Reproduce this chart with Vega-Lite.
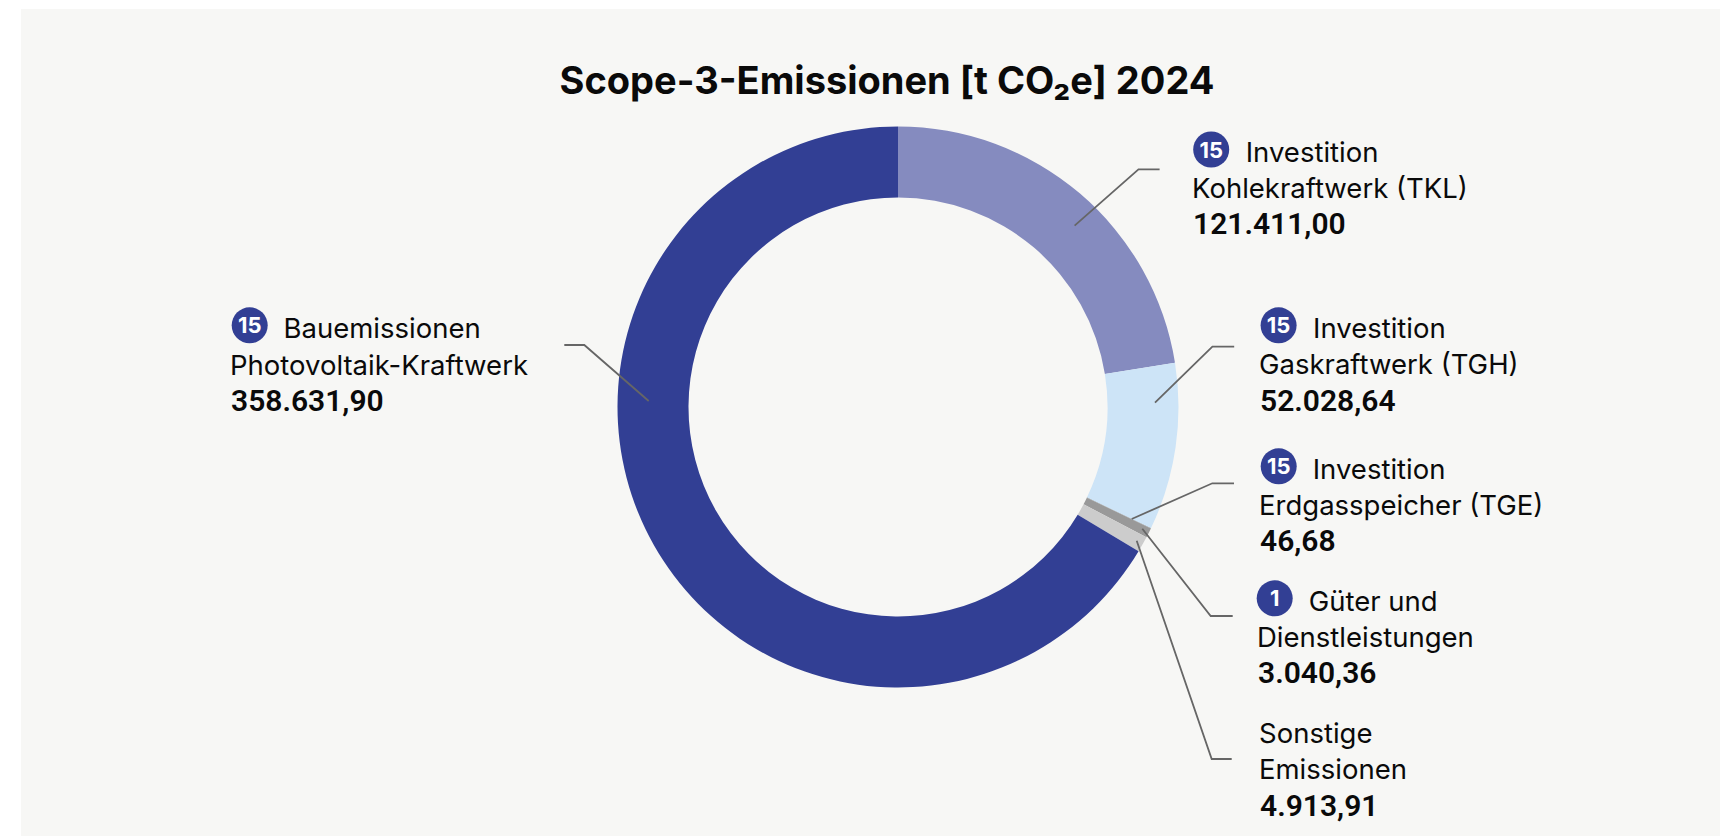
{
"$schema":"https://vega.github.io/schema/vega-lite/v6.json",
"width":1720,"height":836,"padding":0,"autosize":{"type":"none"},"background":"#ffffff",
"title":{"text":"Scope-3-Emissionen [t CO₂e] 2024","font":"Inter","fontSize":38,"fontWeight":700,"color":"#0a0a0a","anchor":"middle","dx":27,"dy":132,"baseline":"alphabetic","offset":0},
"config":{"view":{"stroke":null},"axis":{"domain":false,"grid":false,"ticks":false,"labels":false,"title":null}},
"datasets":{
"panel":[{"x0":21,"x1":1720,"y0":9,"y1":836}],
"slices":[
{"name":"Investition Kohlekraftwerk (TKL)","value":121411.00,"o":1},
{"name":"Investition Gaskraftwerk (TGH)","value":52028.64,"o":2},
{"name":"Investition Erdgasspeicher (TGE)","value":46.68,"o":3},
{"name":"Güter und Dienstleistungen","value":3040.36,"o":4},
{"name":"Sonstige Emissionen","value":4913.91,"o":5},
{"name":"Bauemissionen Photovoltaik-Kraftwerk","value":358631.90,"o":6}],
"leaders":[
{"id":"TKL","s":1,"x":1074.6,"y":225.7},{"id":"TKL","s":2,"x":1138.5,"y":169.3},{"id":"TKL","s":3,"x":1159.6,"y":169.3},
{"id":"TGH","s":1,"x":1155,"y":402.7},{"id":"TGH","s":2,"x":1212.4,"y":346.7},{"id":"TGH","s":3,"x":1234.2,"y":346.7},
{"id":"TGE","s":1,"x":1131.7,"y":519},{"id":"TGE","s":2,"x":1212.3,"y":483.3},{"id":"TGE","s":3,"x":1234,"y":483.3},
{"id":"GUD","s":1,"x":1142.3,"y":528.7},{"id":"GUD","s":2,"x":1210.7,"y":616},{"id":"GUD","s":3,"x":1232.7,"y":616},
{"id":"SON","s":1,"x":1136.7,"y":540.7},{"id":"SON","s":2,"x":1211.7,"y":759},{"id":"SON","s":3,"x":1231.7,"y":759},
{"id":"PV","s":1,"x":648.7,"y":401},{"id":"PV","s":2,"x":584.3,"y":345},{"id":"PV","s":3,"x":564.3,"y":345}],
"badges":[
{"t":"15","x":1211.2,"y":149.5},{"t":"15","x":1278.6,"y":325.3},{"t":"15","x":1278.7,"y":466.3},{"t":"1","x":1274.7,"y":598.3},{"t":"15","x":249.7,"y":325.3}],
"labels":[
{"t":"Investition","x":1245.7,"y":161.7},{"t":"Kohlekraftwerk (TKL)","x":1192,"y":198.3},
{"t":"Investition","x":1313,"y":337.7},{"t":"Gaskraftwerk (TGH)","x":1259,"y":374.3},
{"t":"Investition","x":1312.7,"y":479.3},{"t":"Erdgasspeicher (TGE)","x":1259,"y":515},
{"t":"Güter und","x":1308.7,"y":611},{"t":"Dienstleistungen","x":1257,"y":646.7},
{"t":"Sonstige","x":1259,"y":742.7},{"t":"Emissionen","x":1259,"y":779.3},
{"t":"Bauemissionen","x":283.5,"y":338.3},{"t":"Photovoltaik-Kraftwerk","x":230,"y":375}],
"values":[
{"t":"121.411,00","x":1193,"y":234.3},{"t":"52.028,64","x":1260,"y":411},{"t":"46,68","x":1260,"y":551},{"t":"3.040,36","x":1258,"y":683.3},{"t":"4.913,91","x":1260,"y":816},{"t":"358.631,90","x":231,"y":411}]
},
"layer":[
{"data":{"name":"panel"},"mark":{"type":"rect","color":"#f7f7f5"},
 "encoding":{"x":{"field":"x0","type":"quantitative","scale":{"domain":[0,1720],"range":[0,1720],"nice":false,"zero":false},"axis":null},"x2":{"field":"x1"},
 "y":{"field":"y0","type":"quantitative","scale":{"domain":[0,836],"range":[0,836],"nice":false,"zero":false},"axis":null},"y2":{"field":"y1"}}},
{"data":{"name":"slices"},"mark":{"type":"arc","radius":280.5,"radius2":209.5},
 "encoding":{"theta":{"field":"value","type":"quantitative","stack":true},"order":{"field":"o","type":"ordinal"},
 "x":{"datum":898,"type":"quantitative"},"y":{"datum":407,"type":"quantitative"},
 "color":{"field":"name","type":"nominal","legend":null,"scale":{"domain":["Investition Kohlekraftwerk (TKL)","Investition Gaskraftwerk (TGH)","Investition Erdgasspeicher (TGE)","Güter und Dienstleistungen","Sonstige Emissionen","Bauemissionen Photovoltaik-Kraftwerk"],"range":["#858bbf","#cde4f7","#666666","#999999","#cccccc","#323f94"]}}}},
{"data":{"name":"leaders"},"mark":{"type":"line","color":"#666666","strokeWidth":1.8},
 "encoding":{"x":{"field":"x","type":"quantitative"},"y":{"field":"y","type":"quantitative"},"detail":{"field":"id"},"order":{"field":"s","type":"quantitative"}}},
{"data":{"name":"badges"},"mark":{"type":"point","shape":"circle","filled":true,"opacity":1,"color":"#323f94","size":1296},
 "encoding":{"x":{"field":"x","type":"quantitative"},"y":{"field":"y","type":"quantitative"}}},
{"data":{"name":"badges"},"mark":{"type":"text","font":"Inter","fontSize":22,"fontWeight":700,"color":"#ffffff","align":"center","baseline":"middle","dy":1},
 "encoding":{"x":{"field":"x","type":"quantitative"},"y":{"field":"y","type":"quantitative"},"text":{"field":"t"}}},
{"data":{"name":"labels"},"mark":{"type":"text","font":"Inter","fontSize":27.5,"fontWeight":400,"color":"#0a0a0a","align":"left","baseline":"alphabetic"},
 "encoding":{"x":{"field":"x","type":"quantitative"},"y":{"field":"y","type":"quantitative"},"text":{"field":"t"}}},
{"data":{"name":"values"},"mark":{"type":"text","font":"Roboto","fontSize":30,"fontWeight":600,"color":"#0a0a0a","align":"left","baseline":"alphabetic"},
 "encoding":{"x":{"field":"x","type":"quantitative"},"y":{"field":"y","type":"quantitative"},"text":{"field":"t"}}}
]
}
